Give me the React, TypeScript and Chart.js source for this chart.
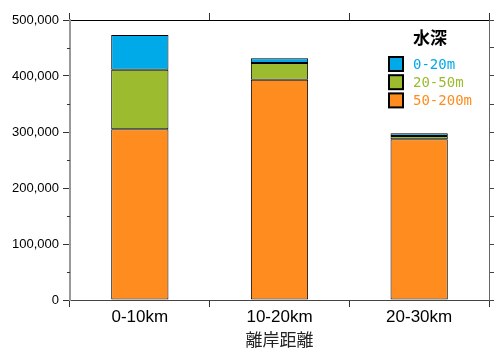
import React, { useEffect, useRef } from 'react';
import { Chart, registerables } from 'chart.js';

Chart.register(...registerables);

const categories = ['0-10km', '10-20km', '20-30km'];
const seriesLabels = ['50-200m', '20-50m', '0-20m'];
const depth50to200 = [304800, 393400, 287000];
const depth20to50 = [106500, 29800, 5900];
const depth0to20 = [62000, 8400, 4700];
const seriesColors = ['#FE8C1E', '#9CBB2E', '#00A9E8'];
const yMin = 0;
const yMax = 500000;
const yStep = 100000;
const legendTitle = '水深';
const xTitle = '離岸距離';

const decorPlugin = {
  id: 'decor',
  afterDraw(chart: any) {
    const ctx = chart.ctx;
    const y = chart.scales.y;
    const area = chart.chartArea;
    ctx.save();
    // minor ticks on left axis
    ctx.strokeStyle = '#333';
    ctx.lineWidth = 1;
    for (let v = yMin + yStep / 2; v < yMax; v += yStep) {
      const py = Math.round(y.getPixelForValue(v)) + 0.5;
      ctx.beginPath();
      ctx.moveTo(area.left - 3, py);
      ctx.lineTo(area.left, py);
      ctx.stroke();
    }
    // legend (top entry = last dataset)
    const lx = area.right - 101;
    const ly = area.top + 18;
    ctx.fillStyle = '#000';
    ctx.font = 'bold 17px "Noto Sans CJK JP"';
    ctx.textBaseline = 'middle';
    ctx.textAlign = 'left';
    ctx.fillText(legendTitle, lx + 25, ly);
    const ds = chart.data.datasets;
    for (let i = 0; i < ds.length; i++) {
      const d = ds[ds.length - 1 - i];
      const cy = ly + 26 + i * 18.2;
      ctx.fillStyle = d.backgroundColor;
      ctx.fillRect(lx + 1, cy - 7, 14, 14);
      ctx.strokeStyle = '#000';
      ctx.lineWidth = 2;
      ctx.strokeRect(lx + 1, cy - 7, 14, 14);
      ctx.fillStyle = d.backgroundColor;
      ctx.font = '14px "DejaVu Sans Mono"';
      ctx.fillText(d.label, lx + 25, cy + 1);
    }
    ctx.restore();
  },
};

export default function App() {
  const ref = useRef<HTMLCanvasElement | null>(null);
  useEffect(() => {
    if (!ref.current) return;
    const chart = new Chart(ref.current, {
      type: 'bar',
      data: {
        labels: categories,
        datasets: [
          { label: seriesLabels[0], data: depth50to200, backgroundColor: seriesColors[0] },
          { label: seriesLabels[1], data: depth20to50, backgroundColor: seriesColors[1] },
          { label: seriesLabels[2], data: depth0to20, backgroundColor: seriesColors[2] },
        ].map((d) => ({
          ...d,
          borderColor: '#000',
          borderWidth: 1,
          borderSkipped: false,
          barPercentage: 0.41,
          categoryPercentage: 1,
          xAxisID: 'x',
          yAxisID: 'y',
        })),
      },
      options: {
        responsive: false,
        animation: false,
        layout: { padding: { top: 13, right: 7, left: 0, bottom: 0 } },
        plugins: { legend: { display: false }, tooltip: { enabled: false } },
        scales: {
          x: {
            type: 'category',
            position: 'bottom',
            stacked: true,
            offset: true,
            grid: { offset: true, drawOnChartArea: false, tickLength: 7, color: '#333' },
            border: { color: '#444', width: 1 },
            ticks: { font: { family: 'Liberation Sans', size: 17 }, color: '#000', padding: 0 },
            title: {
              display: true,
              text: xTitle,
              font: { family: 'Noto Sans CJK JP', size: 17 },
              color: '#222',
              padding: { top: 0, bottom: 5 },
            },
            afterFit: (s: any) => { s.height = 55; },
          },
          x2: {
            type: 'category',
            position: 'top',
            labels: categories,
            offset: true,
            grid: { offset: true, drawOnChartArea: false, tickLength: 7, color: '#333' },
            border: { color: '#000', width: 1 },
            ticks: { display: false },
            afterFit: (s: any) => { s.height = 7; },
          },
          y: {
            position: 'left',
            stacked: true,
            min: yMin,
            max: yMax,
            grid: { drawOnChartArea: false, tickLength: 7, color: '#333' },
            border: { color: '#999', width: 2 },
            ticks: {
              stepSize: yStep,
              font: { family: 'Liberation Sans', size: 13 },
              color: '#000',
              padding: 4,
              callback: (v: any) => Number(v).toLocaleString('en-US'),
            },
            afterFit: (s: any) => { s.width = 70; },
          },
          y2: {
            position: 'right',
            min: yMin,
            max: yMax,
            grid: { drawOnChartArea: false, tickLength: 5, color: '#444' },
            border: { color: '#666', width: 1 },
            ticks: { stepSize: yStep / 2, display: false },
            afterFit: (s: any) => { s.width = 5; },
          },
        },
      } as any,
      plugins: [decorPlugin],
    });
    return () => chart.destroy();
  }, []);
  return (
    <div style={{ position: 'fixed', left: 0, top: 0, width: 501, height: 355, background: '#fff' }}>
      <canvas ref={ref} width={501} height={355} />
    </div>
  );
}
